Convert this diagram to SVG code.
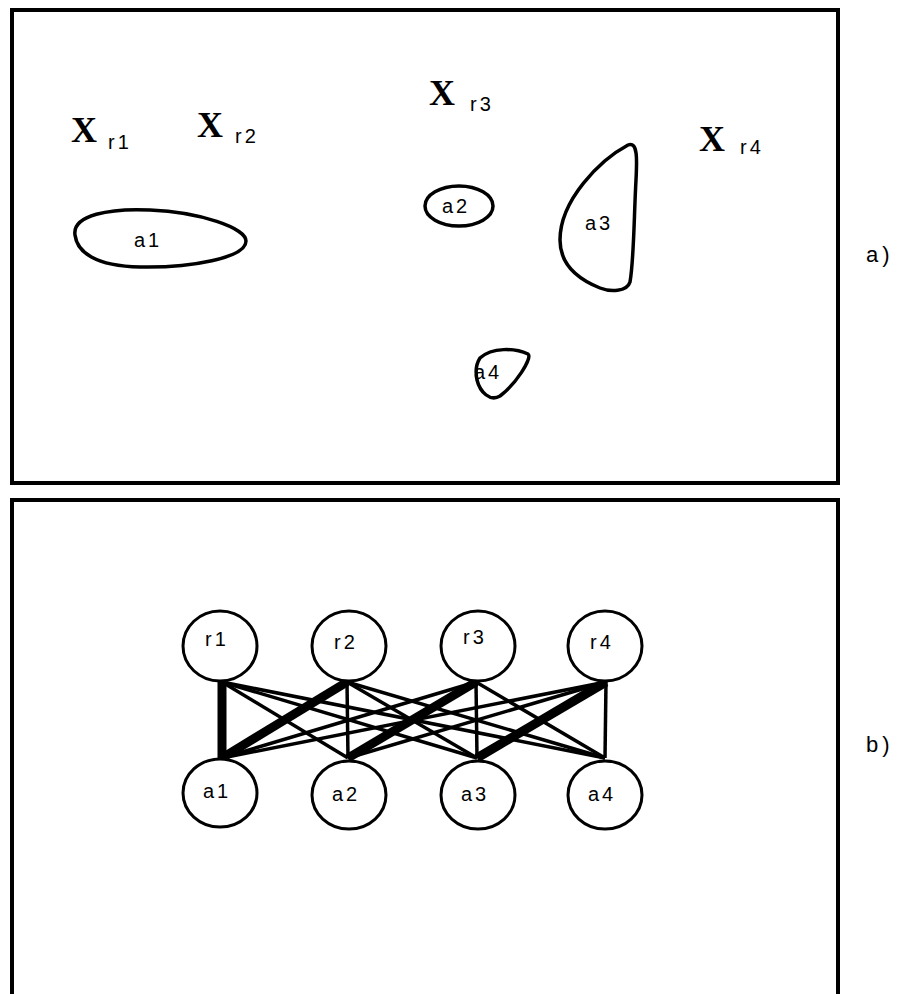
<svg xmlns="http://www.w3.org/2000/svg" width="916" height="994" viewBox="0 0 916 994">
<style>
.frame{fill:none;stroke:#000;stroke-width:4}
.shape{fill:none;stroke:#000;stroke-width:3.5}
.node{fill:#fff;stroke:#000;stroke-width:3}
.lbl{font-family:"Liberation Sans",Arial,sans-serif;font-size:20px;letter-spacing:3px;fill:#000}
.big{font-family:"Liberation Sans",Arial,sans-serif;font-size:22px;letter-spacing:4px;fill:#000}
.x{font-family:"Liberation Serif","Times New Roman",serif;font-weight:bold;font-size:36px;fill:#000}
.e{stroke:#000;stroke-width:3.5}
.t{stroke:#000;stroke-width:9}
</style>
<rect class="frame" x="12" y="10" width="826" height="473"/>
<rect class="frame" x="12" y="500" width="826" height="520"/>
<text class="big" x="866" y="262">a)</text>
<text class="big" x="866" y="752">b)</text>
<g id="xr1"><text class="x" x="71" y="142">X</text><text class="lbl" x="108" y="149">r1</text></g>
<g id="xr2"><text class="x" x="197" y="137">X</text><text class="lbl" x="235" y="143">r2</text></g>
<g id="xr3"><text class="x" x="429" y="105">X</text><text class="lbl" x="470" y="111">r3</text></g>
<g id="xr4"><text class="x" x="699" y="151">X</text><text class="lbl" x="740" y="154">r4</text></g>
<g id="area-a1"><path class="shape" d="M 75,235 C 72,215 110,208 150,210 C 200,212 246,228 246,241 C 246,258 190,268 140,267 C 95,266 77,252 75,235 Z"/><text class="lbl" x="134" y="247">a1</text></g>
<g id="area-a2"><ellipse class="shape" cx="459" cy="206" rx="34" ry="20"/><text class="lbl" x="442" y="213">a2</text></g>
<g id="area-a3"><path class="shape" d="M 628,145 C 638,141 637,160 636,180 C 634,215 634,260 630,282 C 627,292 610,292 600,288 C 575,278 560,262 560,240 C 560,200 600,160 628,145 Z"/><text class="lbl" x="585" y="230">a3</text></g>
<g id="area-a4"><path class="shape" d="M 480,358 C 492,347 515,348 528,354 C 533,358 515,385 500,396 C 490,402 480,392 477,380 C 475,370 476,364 480,358 Z"/><text class="lbl" x="474" y="379">a4</text></g>
<g id="connectors">
<line class="t" x1="222" y1="682" x2="222" y2="758"/>
<line class="e" x1="222" y1="682" x2="348" y2="758"/>
<line class="e" x1="222" y1="682" x2="477" y2="758"/>
<line class="e" x1="222" y1="682" x2="605" y2="758"/>
<line class="t" x1="347" y1="682" x2="222" y2="758"/>
<line class="e" x1="347" y1="682" x2="348" y2="758"/>
<line class="e" x1="347" y1="682" x2="477" y2="758"/>
<line class="e" x1="347" y1="682" x2="605" y2="758"/>
<line class="e" x1="476" y1="682" x2="222" y2="758"/>
<line class="t" x1="476" y1="682" x2="348" y2="758"/>
<line class="e" x1="476" y1="682" x2="477" y2="758"/>
<line class="e" x1="476" y1="682" x2="605" y2="758"/>
<line class="e" x1="606" y1="682" x2="222" y2="758"/>
<line class="e" x1="606" y1="682" x2="348" y2="758"/>
<line class="t" x1="606" y1="682" x2="477" y2="758"/>
<line class="e" x1="606" y1="682" x2="605" y2="758"/>
</g>
<g id="r1"><ellipse class="node" cx="220" cy="646" rx="37" ry="35"/><text class="lbl" x="205" y="646">r1</text></g>
<g id="r2"><ellipse class="node" cx="349" cy="646" rx="37" ry="35"/><text class="lbl" x="334" y="649">r2</text></g>
<g id="r3"><ellipse class="node" cx="478" cy="646" rx="37" ry="35"/><text class="lbl" x="463" y="644">r3</text></g>
<g id="r4"><ellipse class="node" cx="605" cy="646" rx="37" ry="35"/><text class="lbl" x="590" y="649">r4</text></g>
<g id="a1"><ellipse class="node" cx="220" cy="793" rx="37" ry="34"/><text class="lbl" x="203" y="798">a1</text></g>
<g id="a2"><ellipse class="node" cx="349" cy="795" rx="37" ry="34"/><text class="lbl" x="332" y="801">a2</text></g>
<g id="a3"><ellipse class="node" cx="478" cy="795" rx="37" ry="34"/><text class="lbl" x="461" y="801">a3</text></g>
<g id="a4"><ellipse class="node" cx="605" cy="795" rx="37" ry="34"/><text class="lbl" x="588" y="801">a4</text></g>
</svg>
